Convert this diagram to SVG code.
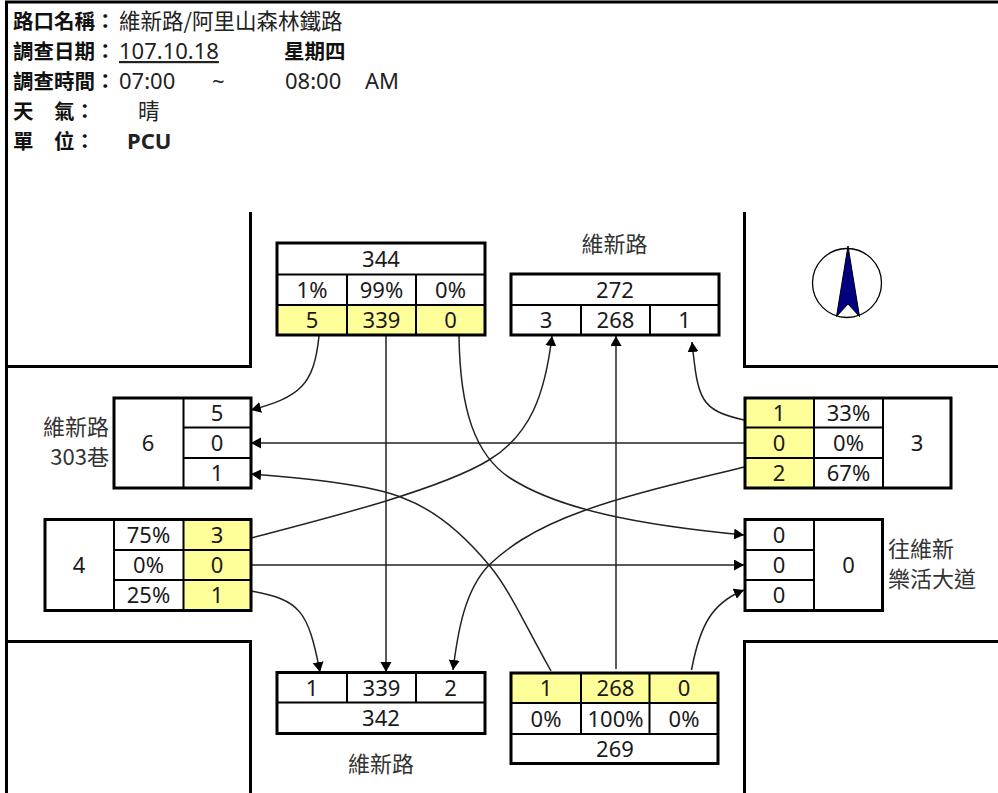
<svg xmlns="http://www.w3.org/2000/svg" width="998" height="793" viewBox="0 0 998 793">
<style>
text{font-family:"Noto Sans","Noto Sans CJK TC",sans-serif;fill:#1a1a1a}
.h{font-size:21.5px;font-family:"Noto Sans CJK TC","Noto Sans",sans-serif;fill:#222}
.hb{font-size:20.5px;font-family:"Noto Sans CJK TC","Noto Sans",sans-serif;font-weight:700;fill:#111}
.l{font-size:22px;fill:#222}
.m{font-size:22px;font-family:"Noto Sans CJK TC","Noto Sans",sans-serif;fill:#333}
.t{font-size:22px;text-anchor:middle}
.r{fill:none;stroke:#000;stroke-width:3}
.c{fill:#fff}
.y{fill:#ffff99}
.g{stroke:#000;stroke-width:2;fill:none}
.w{fill:none;stroke:#000;stroke-width:3}
.k{fill:none;stroke:#222;stroke-width:1.500;marker-end:url(#a)}
.n{fill:none;stroke:#222;stroke-width:1.500}
</style>
<defs><marker id="a" markerUnits="userSpaceOnUse" markerWidth="11" markerHeight="12" refX="10" refY="5.500" orient="auto"><path d="M0 0L10 5.500L0 11Z" fill="#000"/></marker></defs>
<rect width="998" height="793" fill="#fff"/>
<g id="frame">
<path class="w" d="M998 2H6.500V793"/>
<path class="w" d="M6 366.500H250.500V212"/>
<path class="w" d="M998 366.500H744.500V212"/>
<path class="w" d="M6 641.500H250.500V793"/>
<path class="w" d="M998 641.500H744.500V793"/>
</g>
<g id="header">
<text class="hb" x="13" y="29">路口名稱：</text><text class="h" x="119" y="29">維新路/阿里山森林鐵路</text>
<text class="hb" x="13" y="59">調查日期：</text><text class="l" x="119" y="59" text-decoration="underline">107.10.18</text><text class="hb" x="284" y="59">星期四</text>
<text class="hb" x="13" y="89">調查時間：</text><text class="l" x="119" y="89">07:00</text><text class="l" x="212" y="89">~</text><text class="l" x="285" y="89">08:00</text><text class="l" x="365" y="89">AM</text>
<text class="hb" x="13" y="119">天</text><text class="hb" x="54" y="119">氣：</text><text class="h" x="138" y="119">晴</text>
<text class="hb" x="13" y="149">單</text><text class="hb" x="54" y="149">位：</text><text class="l" font-weight="700" x="127" y="149">PCU</text>
</g>
<g id="compass">
<circle cx="847" cy="283" r="34.500" fill="#fff" stroke="#000" stroke-width="1.300"/>
<path d="M848 246L836.500 316.500L848 304L859.500 316.500Z" fill="#000080" stroke="#000" stroke-width="1"/>
</g>
<g id="connectors">
<path class="k" d="M319 336C314 385 300 397 251 410"/>
<path class="k" d="M386 336V672"/>
<path class="k" d="M459 336C460 410 475 455 510 478C560 510 640 525 744 535"/>
<path class="k" d="M251 538C320 520 440 490 489 460C530 435 545 395 552 336"/>
<path class="k" d="M616 669V336"/>
<path class="k" d="M744 420C700 410 698 400 692 342"/>
<path class="k" d="M744 443H251"/>
<path class="k" d="M744 467C680 483 630 494 583 511C530 530 505 550 489 565C465 590 458 630 453 670"/>
<path class="k" d="M251 565H744"/>
<path class="k" d="M251 591C300 600 308 610 320 672"/>
<path class="k" d="M551 671C525 625 510 590 489 565C460 530 430 508 403 498C370 484 300 478 251 474"/>
<path class="k" d="M691.500 670C700 625 712 603 744 590"/>
</g>
<g id="north-in">
<rect class="c" x="277" y="243" width="208" height="92"/>
<rect class="y" x="277" y="305" width="208" height="30"/>
<path class="g" d="M277 274.500H485M277 305H485M347 274.500V335M416 274.500V335"/>
<rect class="r" x="277" y="243" width="208" height="92"/>
<text class="t" x="381" y="267">344</text>
<text class="t" x="312" y="297.500">1%</text><text class="t" x="381.500" y="297.500">99%</text><text class="t" x="450.500" y="297.500">0%</text>
<text class="t" x="312" y="328">5</text><text class="t" x="381.500" y="328">339</text><text class="t" x="450.500" y="328">0</text>
</g>
<g id="north-out">
<text class="m" x="614.500" y="252" text-anchor="middle">維新路</text>
<rect class="c" x="511" y="274" width="208" height="61"/>
<path class="g" d="M511 305H719M581 305V335M650 305V335"/>
<rect class="r" x="511" y="274" width="208" height="61"/>
<text class="t" x="615" y="297.500">272</text>
<text class="t" x="546" y="328">3</text><text class="t" x="615.500" y="328">268</text><text class="t" x="684.500" y="328">1</text>
</g>
<g id="west-out">
<text class="m" x="109" y="435" text-anchor="end">維新路</text>
<text class="m" x="109" y="465" text-anchor="end">303巷</text>
<rect class="c" x="114" y="398" width="137" height="90"/>
<path class="g" d="M183.500 398V488M183.500 427.500H251M183.500 458H251"/>
<rect class="r" x="114" y="398" width="137" height="90"/>
<text class="t" x="148" y="451">6</text>
<text class="t" x="217" y="420.500">5</text><text class="t" x="217" y="451">0</text><text class="t" x="217" y="481">1</text>
</g>
<g id="west-in">
<rect class="c" x="45" y="519.500" width="206" height="91"/>
<rect class="y" x="183" y="519.500" width="68" height="91"/>
<path class="g" d="M114 519.500V610.500M183.500 519.500V610.500M114 550H251M114 580H251"/>
<rect class="r" x="45" y="519.500" width="206" height="91"/>
<text class="t" x="79" y="573">4</text>
<text class="t" x="148.500" y="543">75%</text><text class="t" x="148.500" y="573">0%</text><text class="t" x="148.500" y="603">25%</text>
<text class="t" x="217" y="543">3</text><text class="t" x="217" y="573">0</text><text class="t" x="217" y="603">1</text>
</g>
<g id="east-in">
<rect class="c" x="745" y="398" width="206" height="90"/>
<rect class="y" x="745" y="398" width="69" height="90"/>
<path class="g" d="M814 398V488M883 398V488M745 427.500H883M745 458H883"/>
<rect class="r" x="745" y="398" width="206" height="90"/>
<text class="t" x="779" y="420.500">1</text><text class="t" x="779" y="451">0</text><text class="t" x="779" y="481">2</text>
<text class="t" x="848.500" y="420.500">33%</text><text class="t" x="848.500" y="451">0%</text><text class="t" x="848.500" y="481">67%</text>
<text class="t" x="917" y="451">3</text>
</g>
<g id="east-out">
<rect class="c" x="745" y="519.500" width="137.500" height="91"/>
<path class="g" d="M814 519.500V610.500M745 550H814M745 580H814"/>
<rect class="r" x="745" y="519.500" width="137.500" height="91"/>
<text class="t" x="779" y="543">0</text><text class="t" x="779" y="573">0</text><text class="t" x="779" y="603">0</text>
<text class="t" x="848.500" y="573">0</text>
<text class="m" x="888" y="557">往維新</text>
<text class="m" x="888" y="587">樂活大道</text>
</g>
<g id="south-out">
<rect class="c" x="277" y="672.500" width="208" height="61"/>
<path class="g" d="M277 702.500H485M347 672.500V702.500M416 672.500V702.500"/>
<rect class="r" x="277" y="672.500" width="208" height="61"/>
<text class="t" x="312" y="696">1</text><text class="t" x="381.500" y="696">339</text><text class="t" x="450.500" y="696">2</text>
<text class="t" x="381" y="726">342</text>
<text class="m" x="381" y="772" text-anchor="middle">維新路</text>
</g>
<g id="south-in">
<rect class="c" x="511" y="673" width="207" height="90.500"/>
<rect class="y" x="511" y="673" width="207" height="30"/>
<path class="g" d="M511 703H718M511 734H718M581 673V734M649.500 673V734"/>
<rect class="r" x="511" y="673" width="207" height="90.500"/>
<text class="t" x="546" y="696">1</text><text class="t" x="615.500" y="696">268</text><text class="t" x="684" y="696">0</text>
<text class="t" x="546" y="726.500">0%</text><text class="t" x="615.500" y="726.500">100%</text><text class="t" x="684" y="726.500">0%</text>
<text class="t" x="615" y="756.500">269</text>
</g>
</svg>
